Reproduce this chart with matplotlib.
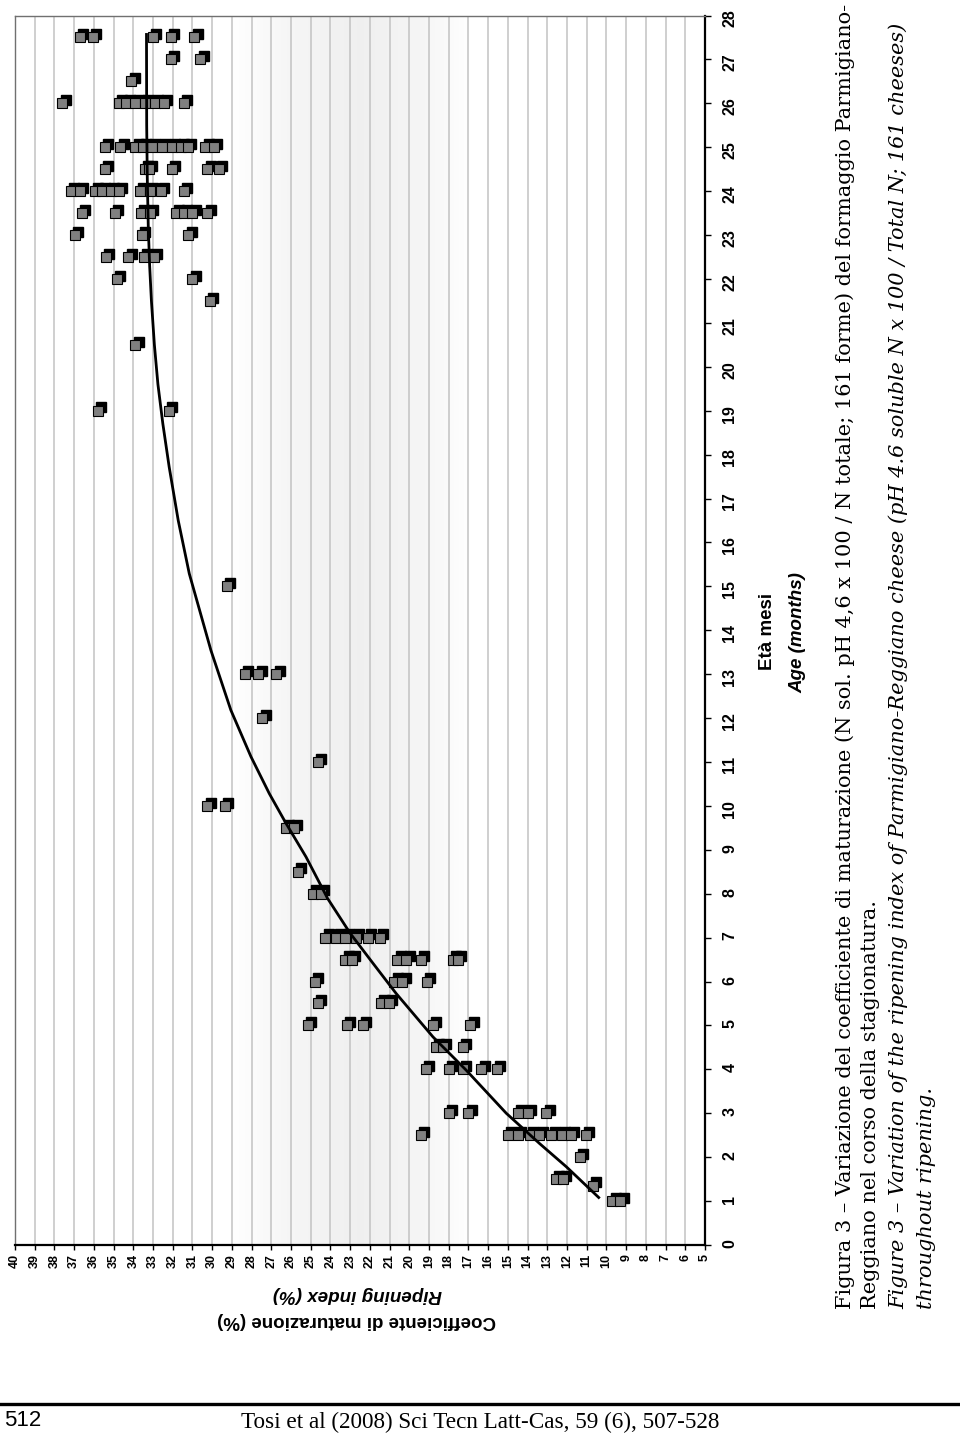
import numpy as np
import matplotlib
matplotlib.use('Agg')
import matplotlib.pyplot as plt
from matplotlib import transforms
from matplotlib.lines import Line2D

plt.rcParams['font.family'] = ['Liberation Sans', 'DejaVu Sans']

# ripening index (%), grouped by age (months)
row_age = [1, 1.35, 1.5, 2, 2.5, 3, 4, 4.5, 5, 5.5, 6, 6.5, 7, 8, 8.5, 9.5, 10,
           11, 12, 13, 15, 19, 20.5, 21.5, 22, 22.5, 23, 23.5, 24, 24.5, 25,
           26, 26.5, 27, 27.5]
row_ri = [
    [9.7, 9.3],
    [10.7],
    [12.55, 12.2],
    [11.35],
    [19.4, 15.0, 14.5, 13.9, 13.4, 12.8, 12.25, 11.8, 11.05],
    [18.0, 17.0, 14.5, 14.0, 13.05],
    [19.15, 18.0, 17.3, 16.35, 15.55],
    [18.65, 18.3, 17.3],
    [25.15, 23.15, 22.35, 18.8, 16.9],
    [24.65, 21.45, 21.05],
    [24.8, 20.75, 20.35, 19.1],
    [23.25, 22.9, 20.6, 20.15, 19.4, 17.8, 17.55],
    [24.25, 23.7, 23.25, 22.7, 22.1, 21.5],
    [24.9, 24.5],
    [25.65],
    [26.25, 25.85],
    [30.25, 29.35],
    [24.65],
    [27.45],
    [28.35, 27.65, 26.75],
    [29.25],
    [35.8, 32.2],
    [33.9],
    [30.1],
    [34.85, 31.0],
    [35.4, 34.25, 33.45, 32.95],
    [36.95, 33.55, 31.2],
    [36.6, 34.95, 33.6, 33.15, 31.85, 31.45, 31.0, 30.25],
    [37.15, 36.7, 35.95, 35.6, 35.15, 34.75, 33.65, 33.15, 32.6, 31.45],
    [35.45, 33.4, 33.2, 32.05, 30.25, 29.65],
    [35.45, 34.65, 33.9, 33.5, 33.05, 32.55, 32.05, 31.6, 31.25, 30.35, 29.9],
    [37.6, 34.75, 34.35, 33.9, 33.4, 32.9, 32.45, 31.45],
    [34.1],
    [32.1, 30.6],
    [36.7, 36.05, 33.0, 32.1, 30.9],
]

# fitted trend line as drawn
trend_age = [1.06, 1.78, 2.31, 3.0, 3.98, 4.74, 5.73, 6.45, 7.1, 7.89, 8.84,
             9.6, 10.28, 11.12, 12.18, 13.54, 15.29, 16.5, 17.72, 18.7, 19.6,
             20.5, 21.5, 22.3, 23.2, 24.3, 25.5, 27.6]
trend_ri = [10.34, 12.03, 13.39, 15.08, 17.11, 18.8, 20.67, 21.9, 23.0, 24.14,
            25.24, 26.25, 27.1, 28.03, 29.05, 30.06, 31.16, 31.72, 32.18, 32.5,
            32.75, 32.93, 33.08, 33.17, 33.24, 33.29, 33.32, 33.33]

ri_ticks = list(range(5, 41))
age_ticks = list(range(0, 29))

caption = [
    ('Figura 3 – Variazione del coefficiente di maturazione (N sol. pH 4,6 x 100 / '
     'N totale; 161 forme) del formaggio Parmigiano-', 'normal'),
    ('Reggiano nel corso della stagionatura.', 'normal'),
    ('Figure 3 – Variation of the ripening index of Parmigiano-Reggiano cheese '
     '(pH 4.6 soluble N x 100 / Total N; 161 cheeses)', 'italic'),
    ('throughout ripening.', 'italic'),
]

W, H = 960, 1438


def fx(px):
    return px / W


def fy(py):
    return 1 - py / H


fig = plt.figure(figsize=(9.6, 14.38), dpi=100)
ax = fig.add_axes([fx(15), fy(1245), (705 - 15) / W, (1245 - 15.5) / H])
ax.set_xlim(40, 5)
ax.set_ylim(0, 28)

# light grey shading band
band_x = np.linspace(29, 17, 240)
g = np.interp(band_x, [17, 19.5, 22.5, 26, 29], [1.0, 0.96, 0.94, 0.962, 1.0])
ax.imshow(np.dstack([g, g, g]), extent=[29, 17, 0, 28],
          aspect='auto', zorder=0, interpolation='bilinear')

ax.set_xticks(ri_ticks)
ax.set_yticks(age_ticks)
ax.grid(axis='x', color='#c2c2c2', lw=1.1)
ax.grid(axis='y', visible=False)
ax.set_axisbelow(True)

ax.yaxis.tick_right()
ax.tick_params(axis='x', direction='out', length=3.6, width=1, pad=3,
               labelsize=9, labelrotation=90)
ax.tick_params(axis='y', direction='out', length=4.5, width=1, pad=8,
               labelsize=11.5, labelrotation=90)
for lab in ax.get_xticklabels() + ax.get_yticklabels():
    lab.set_fontweight('bold')

for side in ['left', 'top']:
    ax.spines[side].set_color('#707070')
    ax.spines[side].set_linewidth(1.0)
for side in ['right', 'bottom']:
    ax.spines[side].set_color('black')
    ax.spines[side].set_linewidth(1.6)

# markers with a drop shadow, drawn left to right
pts = [(r, a) for a, rs in zip(row_age, row_ri) for r in rs]
pts.sort(key=lambda p: -p[0])
shadow = transforms.offset_copy(ax.transData, fig=fig, x=3.3, y=3.3, units='dots')
for i, (r, a) in enumerate(pts):
    ax.plot(r, a, 's', ms=6.8, color='black', transform=shadow, zorder=3 + 2 * i)
    ax.plot(r, a, 's', ms=6.8, mfc='#808080', mec='black', mew=0.8,
            zorder=4 + 2 * i)

ax.plot(trend_ri, trend_age, color='black', lw=2.0, zorder=1000,
        solid_capstyle='butt', solid_joinstyle='round')

# axis titles (page is rotated)
fig.text(fx(768), fy(631), 'Età mesi', rotation=90, ha='center', va='center',
         fontsize=13.5, fontweight='bold')
fig.text(fx(798), fy(633), 'Age (months)', rotation=90, ha='center', va='center',
         fontsize=13.5, fontweight='bold', fontstyle='italic')
fig.text(fx(358), fy(1295), 'Ripening index (%)', rotation=180, ha='center',
         va='center', fontsize=13.5, fontweight='bold', fontstyle='italic')
fig.text(fx(357), fy(1320), 'Coefficiente di maturazione (%)', rotation=180,
         ha='center', va='center', fontsize=13.5, fontweight='bold')

# caption
for xc, (txt, st) in zip([845, 871, 898, 926], caption):
    fig.text(fx(xc), fy(1309), txt, rotation=90, ha='center', va='bottom',
             fontsize=15.05, family='DejaVu Serif', fontstyle=st)

# page footer
fig.add_artist(Line2D([0, 1], [fy(1404), fy(1404)], transform=fig.transFigure,
                      color='black', lw=2.4))
fig.text(fx(4), fy(1420), '512', ha='left', va='center', fontsize=16)
fig.text(fx(719), fy(1422), 'Tosi et al (2008) Sci Tecn Latt-Cas, 59 (6), 507-528',
         ha='right', va='center', fontsize=16.7, family='Liberation Serif')

fig.savefig('out.png', dpi=100)
